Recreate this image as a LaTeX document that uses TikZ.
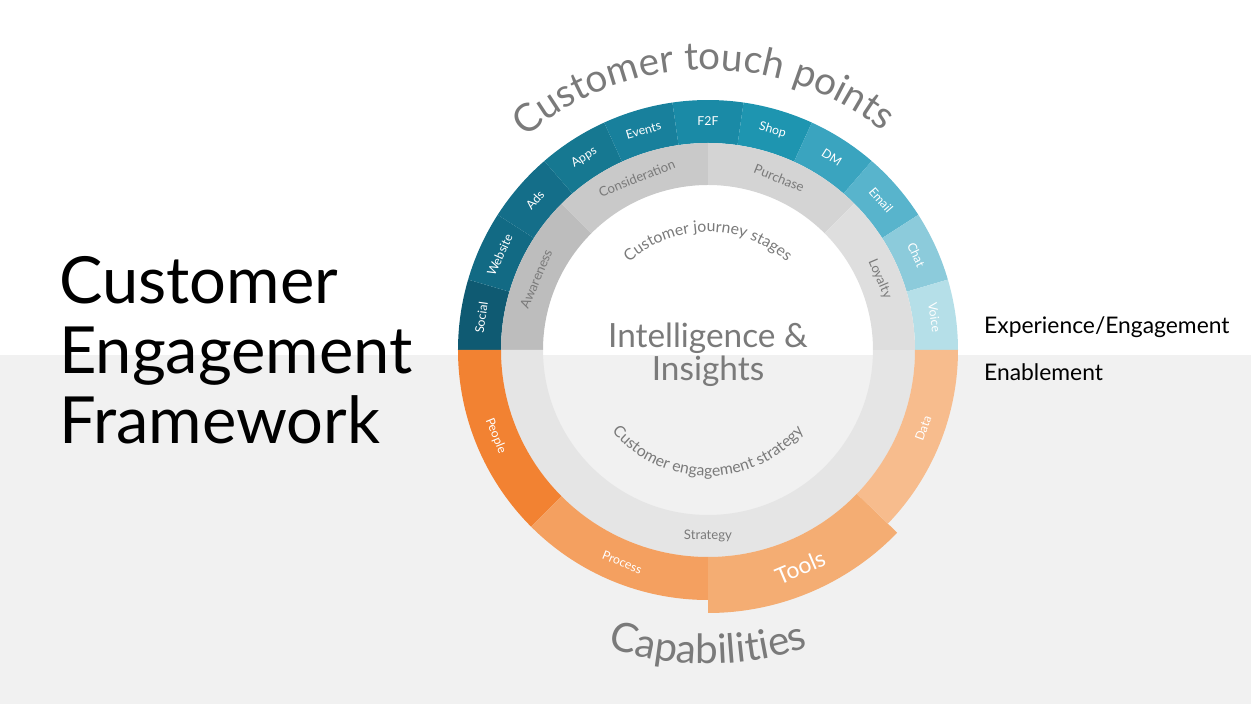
\documentclass[tikz,border=0pt]{standalone}
\usepackage{fontspec}
\setmainfont{Lato}
\usetikzlibrary{decorations.text}
\definecolor{txtgray}{HTML}{7A7A7A}
\definecolor{bggray}{HTML}{F1F1F1}
\definecolor{peoplec}{HTML}{F28232}
\definecolor{processc}{HTML}{F4A060}
\definecolor{toolsc}{HTML}{F4AD73}
\definecolor{datac}{HTML}{F7BC8D}
\newcommand{\ringseg}[5]{\fill[#5] (#1:#4) arc (#1:#2:#4) -- (#2:#3) arc (#2:#1:#3) -- cycle;}
\tikzset{
  seglabel/.style={white, font=\fontsize{7}{8}\selectfont, inner sep=0pt},
  stagelabel/.style={txtgray, font=\fontsize{7.5}{8}\selectfont, inner sep=0pt},
  arctext/.style={decorate, decoration={text along path, text align=center, text color=txtgray}}
}
\begin{document}
\begin{tikzpicture}[x=0.02cm,y=0.02cm]
   \useasboundingbox (-708,-359) rectangle (543,350);
   \fill[bggray] (-708,-5) rectangle (543,-354);

   % touch points
   \foreach \c [count=\i from 0] in {0F5A72,126A84,146E89,167891,18809C,1A8AA6,1E95B0,3AA4BF,58B4CC,8CCBDB,B5DFE8} {
     \definecolor{segc}{HTML}{\c}
     \pgfmathsetmacro{\aa}{180-\i*180/11}
     \pgfmathsetmacro{\ab}{180-(\i+1)*180/11}
     \ringseg{\aa}{\ab}{207}{250}{segc}
   }
   \foreach \t [count=\i from 0] in {Social,Website,Ads,Apps,Events,F2F,Shop,DM,Email,Chat,Voice} {
     \pgfmathsetmacro{\am}{180-(\i+0.5)*180/11}
     \node[seglabel, rotate=\am-90] (tp\i) at (\am:229) {\t};
   }

   % journey stages
   \ringseg{180}{135}{165}{207}{black!26}
   \ringseg{135}{90}{165}{207}{black!21}
   \ringseg{90}{45}{165}{207}{black!17}
   \ringseg{45}{0}{165}{207}{black!13}
   \node[stagelabel, rotate=67] (aware) at (157.5:186) {Awareness};
   \node[stagelabel, rotate=22] (consid) at (112.5:186) {Consideration};
   \node[stagelabel, rotate=-22] (purch) at (67.5:186) {Purchase};
   \node[stagelabel, rotate=-67] (loyal) at (22.5:186) {Loyalty};

   % capabilities
   \ringseg{180}{360}{165}{207}{black!10}
   \ringseg{180}{225}{207}{250}{peoplec}
   \ringseg{225}{270}{207}{250}{processc}
   \ringseg{270}{316}{207}{263}{toolsc}
   \ringseg{316}{360}{207}{250}{datac}
   \node[seglabel, rotate=-68] (people) at (202:229) {People};
   \node[seglabel, rotate=-22] (process) at (248:229) {Process};
   \node[white, inner sep=0pt, font=\fontsize{13}{14}\selectfont, rotate=23] (tools) at (293:236) {Tools};
   \node[seglabel, rotate=70] (data) at (340:229) {Data};
   \node[stagelabel] (strat) at (270:186) {Strategy};

   % curved titles
   \path[arctext, decoration={text={|\fontsize{22}{22}\selectfont|Customer touch points}}] (142:280) arc (142:40:280);
   \path[arctext, decoration={text={|\fontsize{23}{23}\selectfont|Capabilities}}] (245:314) arc (245:295:314);
   \path[arctext, decoration={text={|\fontsize{9}{9}\selectfont|Customer journey stages}}] (150:118) arc (150:30:118);
   \path[arctext, decoration={text={|\fontsize{9}{9}\selectfont|Customer engagement strategy}}] (205:126) arc (205:335:126);

   \node[txtgray, align=center, font=\fontsize{19}{19}\selectfont] (intel) at (0,-5) {Intelligence \&\\Insights};

   \node[anchor=west, font=\fontsize{13}{14}\selectfont] (exp) at (270,23) {Experience/Engagement};
   \node[anchor=west, font=\fontsize{13}{14}\selectfont] (enab) at (270,-22) {Enablement};
   \node[anchor=west, align=left, font=\fontsize{37}{40}\selectfont] (title) at (-655,0) {Customer\\Engagement\\Framework};
\end{tikzpicture}
\end{document}
